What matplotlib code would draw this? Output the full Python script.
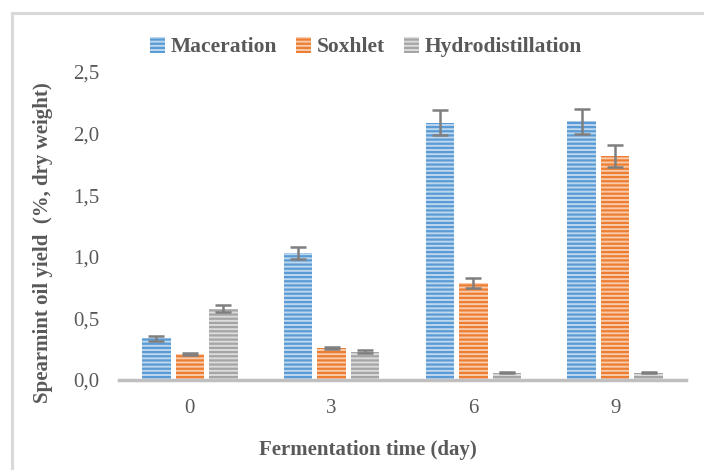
import numpy as np
import matplotlib
matplotlib.use("Agg")
from matplotlib import pyplot
from matplotlib.lines import Line2D

# Data
days = ["0", "3", "6", "9"]
series = ["Maceration", "Soxhlet", "Hydrodistillation"]
maceration = [0.34, 1.03, 2.09, 2.10]
maceration_err = [0.02, 0.05, 0.10, 0.10]
soxhlet = [0.21, 0.26, 0.79, 1.82]
soxhlet_err = [0.01, 0.01, 0.04, 0.09]
hydro = [0.58, 0.23, 0.06, 0.06]
hydro_err = [0.03, 0.01, 0.005, 0.005]
yticks = [0.0, 0.5, 1.0, 1.5, 2.0, 2.5]

pyplot.rcParams['font.family'] = ['Liberation Serif', 'DejaVu Serif']
pyplot.rcParams['hatch.linewidth'] = 1.6

text_col = '#595959'
main_cols = ['#5B9BD5', '#ED7D31', '#A5A5A5']
light_cols = ['#BDD7EE', '#F8CBAD', '#DBDBDB']

fig = pyplot.figure(figsize=(7.04, 4.70), dpi=100)
W, H = 704, 470

# light frame (only left and top edges are inside the picture)
frame = dict(color='#d9d9d9', linewidth=2.2, transform=fig.transFigure)
fig.lines.append(Line2D([12 / W, 12 / W], [0, (H - 13) / H], **frame))
fig.lines.append(Line2D([12 / W, 1], [(H - 13) / H, (H - 13) / H], **frame))

ax = fig.add_axes([119 / W, (H - 380) / H, 567 / W, 308 / H])

x = np.arange(len(days))
width = 0.2
step = 0.236
vals = [maceration, soxhlet, hydro]
errs = [maceration_err, soxhlet_err, hydro_err]

for i, (v, e) in enumerate(zip(vals, errs)):
    pos = x + (i - 1) * step
    ax.bar(pos, v, width, color=light_cols[i], edgecolor=main_cols[i],
           hatch='----', linewidth=0, label=series[i], zorder=2)
    ax.errorbar(pos, v, yerr=e, fmt='none', ecolor='#7f7f7f', elinewidth=1.8,
                capsize=5.5, capthick=1.8, zorder=3)

ax.set_xlim(-0.5, 3.5)
ax.set_ylim(0, 2.5)
ax.set_yticks(yticks)
ax.set_yticklabels([('%.1f' % t).replace('.', ',') for t in yticks])
ax.set_xticks(x)
ax.set_xticklabels(days)
ax.tick_params(axis='both', length=0, labelsize=15, colors=text_col)
ax.tick_params(axis='y', pad=14)
ax.tick_params(axis='x', pad=14)

for s in ['top', 'right', 'left']:
    ax.spines[s].set_visible(False)
ax.spines['bottom'].set_color('#bfbfbf')
ax.spines['bottom'].set_linewidth(2.5)

ax.set_xlabel('Fermentation time (day)', fontsize=15, fontweight='bold', color=text_col)
ax.xaxis.set_label_coords((368 - 119) / 567, (380 - 440) / 308)
ax.set_ylabel('Spearmint oil yield  (%, dry weight)', fontsize=15, fontweight='bold',
              color=text_col, va='center')
ax.yaxis.set_label_coords((43 - 119) / 567, (380 - 243) / 308)

handles, labels = ax.get_legend_handles_labels()
leg = fig.legend(handles, labels, loc='center', bbox_to_anchor=(366 / W, (H - 47) / H),
                 ncol=3, frameon=False, prop={'weight': 'bold', 'size': 15.5},
                 handlelength=0.7, handleheight=0.75, handletextpad=0.25, columnspacing=0.9)
for t in leg.get_texts():
    t.set_color(text_col)

fig.savefig('out.png', dpi=100)
